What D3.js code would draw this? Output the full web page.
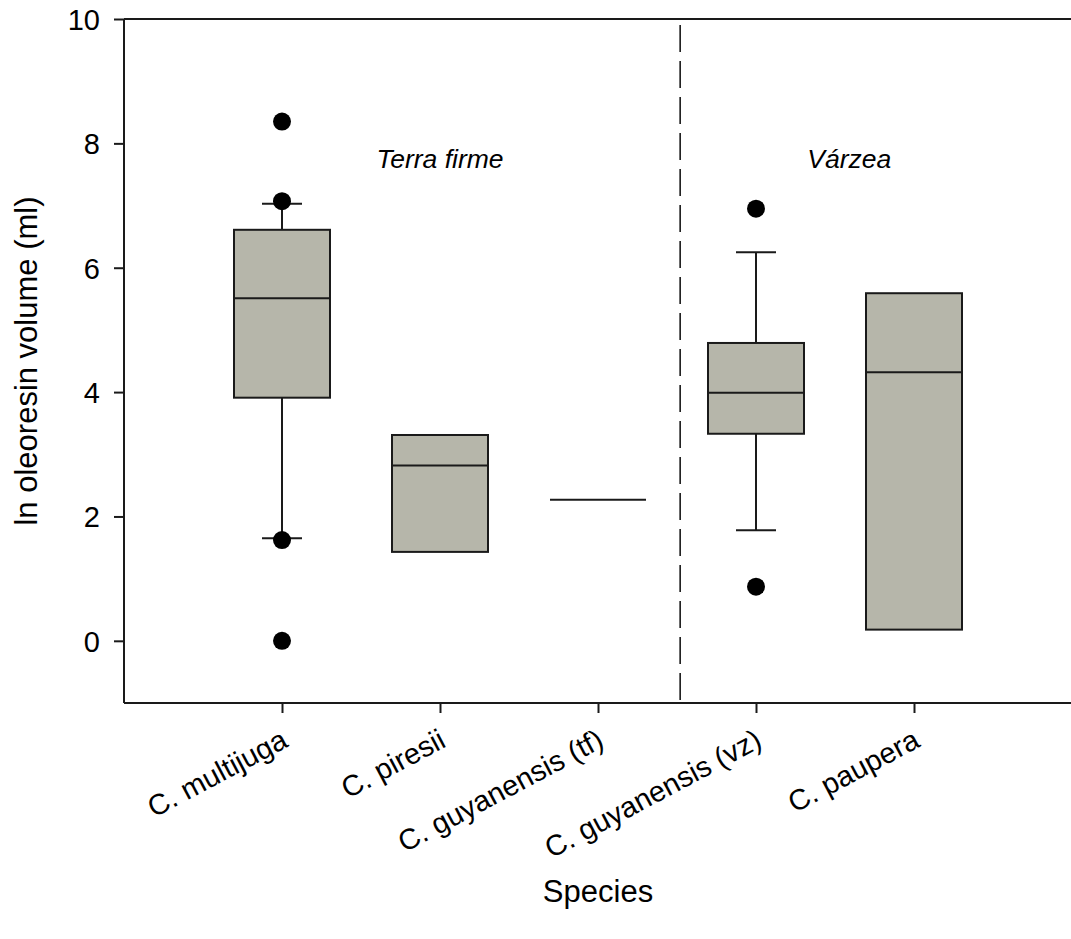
<!DOCTYPE html>
<html>
<head>
<meta charset="utf-8">
<script src="https://cdn.jsdelivr.net/npm/d3@7"></script>
<style>
  body { margin: 0; background: #fff; }
  text { font-family: "Liberation Sans", Arial, sans-serif; fill: #000; }
</style>
</head>
<body>
<svg width="1071" height="939"></svg>
<script>
// data
var species = ["C. multijuga", "C. piresii", "C. guyanensis (tf)", "C. guyanensis (vz)", "C. paupera"];
var q1      = [3.91, 1.43, 2.27, 3.33, 0.18];
var median  = [5.51, 2.82, 2.27, 3.99, 4.32];
var q3      = [6.61, 3.31, 2.27, 4.79, 5.59];
var whiskLo = [1.65, null, null, 1.78, null];
var whiskHi = [7.03, null, null, 6.25, null];
var outliers = [[8.35, 7.07, 1.62, 0.0], [], [], [6.95, 0.87], []];
var yTicks = [0, 2, 4, 6, 8, 10];
var habitats = [{ label: "Terra firme", pos: 2 }, { label: "Várzea", pos: 4.59 }];
var dividerPos = 3.52;
var habitatValue = 7.6;

var svg = d3.select("svg"),
    margin = { top: 19, right: -1, bottom: 236, left: 124 },
    width = +svg.attr("width") - margin.left - margin.right,
    height = +svg.attr("height") - margin.top - margin.bottom;

var xScale = d3.scaleLinear().domain([0, species.length + 1]).range([0, width]),
    yScale = d3.scaleLinear().domain([-1, 10]).range([height, 0]);

var g = svg.append("g")
    .attr("transform", "translate(" + margin.left + "," + margin.top + ")");

var boxW = 96, capW = 40;
var data = species.map(function(s, i) {
    return { name: s, x: i + 1, q1: q1[i], med: median[i], q3: q3[i],
             lo: whiskLo[i], hi: whiskHi[i], out: outliers[i] };
});

// whiskers
var wh = g.selectAll(".whisk").data(data.filter(function(d) { return d.lo !== null; }))
    .enter().append("g").attr("class", "whisk")
    .attr("stroke", "#1a1a1a").attr("stroke-width", 2);
wh.append("line")
    .attr("x1", function(d) { return xScale(d.x); }).attr("x2", function(d) { return xScale(d.x); })
    .attr("y1", function(d) { return yScale(d.hi); }).attr("y2", function(d) { return yScale(d.q3); });
wh.append("line")
    .attr("x1", function(d) { return xScale(d.x); }).attr("x2", function(d) { return xScale(d.x); })
    .attr("y1", function(d) { return yScale(d.q1); }).attr("y2", function(d) { return yScale(d.lo); });
wh.append("line")
    .attr("x1", function(d) { return xScale(d.x) - capW / 2; }).attr("x2", function(d) { return xScale(d.x) + capW / 2; })
    .attr("y1", function(d) { return yScale(d.hi); }).attr("y2", function(d) { return yScale(d.hi); });
wh.append("line")
    .attr("x1", function(d) { return xScale(d.x) - capW / 2; }).attr("x2", function(d) { return xScale(d.x) + capW / 2; })
    .attr("y1", function(d) { return yScale(d.lo); }).attr("y2", function(d) { return yScale(d.lo); });

// boxes
g.selectAll(".box").data(data).enter().append("rect")
    .attr("class", "box")
    .attr("x", function(d) { return xScale(d.x) - boxW / 2; })
    .attr("y", function(d) { return yScale(d.q3); })
    .attr("width", boxW)
    .attr("height", function(d) { return yScale(d.q1) - yScale(d.q3); })
    .attr("fill", "#b6b6aa")
    .attr("stroke", "#1a1a1a")
    .attr("stroke-width", 2);

// medians
g.selectAll(".med").data(data).enter().append("line")
    .attr("class", "med")
    .attr("x1", function(d) { return xScale(d.x) - boxW / 2; })
    .attr("x2", function(d) { return xScale(d.x) + boxW / 2; })
    .attr("y1", function(d) { return yScale(d.med); })
    .attr("y2", function(d) { return yScale(d.med); })
    .attr("stroke", "#1a1a1a").attr("stroke-width", 2);

// outliers
var pts = [];
data.forEach(function(d) { d.out.forEach(function(v) { pts.push({ x: d.x, v: v }); }); });
g.selectAll(".out").data(pts).enter().append("circle")
    .attr("cx", function(d) { return xScale(d.x); })
    .attr("cy", function(d) { return yScale(d.v); })
    .attr("r", 9)
    .attr("fill", "#000");

// divider
g.append("line")
    .attr("x1", xScale(dividerPos)).attr("x2", xScale(dividerPos))
    .attr("y1", 6).attr("y2", height)
    .attr("stroke", "#1a1a1a").attr("stroke-width", 1.6)
    .attr("stroke-dasharray", "27,9");

// habitat labels
g.selectAll(".hab").data(habitats).enter().append("text")
    .attr("x", function(d) { return xScale(d.pos); })
    .attr("y", yScale(habitatValue))
    .attr("text-anchor", "middle")
    .style("font-style", "italic")
    .style("font-size", "26.5px")
    .text(function(d) { return d.label; });

// frame
g.append("line").attr("x1", 0).attr("x2", width).attr("y1", 0).attr("y2", 0)
    .attr("stroke", "#1a1a1a").attr("stroke-width", 2);

// Y axis
var yAxis = g.append("g")
    .call(d3.axisLeft(yScale).tickValues(yTicks).tickSize(10).tickPadding(14));
yAxis.select(".domain").attr("stroke", "#1a1a1a").attr("stroke-width", 2)
    .attr("d", "M0," + height + "V0");
yAxis.selectAll(".tick line").attr("stroke", "#1a1a1a").attr("stroke-width", 2);
yAxis.selectAll("text").style("font-size", "29px").attr("dy", "0.36em");

// X axis
var xAxis = g.append("g")
    .attr("transform", "translate(0," + height + ")")
    .call(d3.axisBottom(xScale).tickValues(data.map(function(d) { return d.x; }))
        .tickSize(10).tickFormat(function(v) { return species[v - 1]; }));
xAxis.select(".domain").attr("stroke", "#1a1a1a").attr("stroke-width", 2)
    .attr("d", "M0,0H" + width);
xAxis.selectAll(".tick line").attr("stroke", "#1a1a1a").attr("stroke-width", 2);
xAxis.selectAll("text")
    .style("font-size", "29px")
    .attr("y", 0).attr("dy", 0)
    .attr("transform", "translate(7,43) rotate(-28)")
    .style("text-anchor", "end");

// axis titles
svg.append("text")
    .attr("x", margin.left + xScale(3))
    .attr("y", 902)
    .attr("text-anchor", "middle")
    .style("font-size", "31px")
    .text("Species");

svg.append("text")
    .attr("transform", "rotate(-90)")
    .attr("x", -(margin.top + height / 2))
    .attr("y", 37)
    .attr("text-anchor", "middle")
    .style("font-size", "31px")
    .text("ln oleoresin volume (ml)");
</script>
</body>
</html>
